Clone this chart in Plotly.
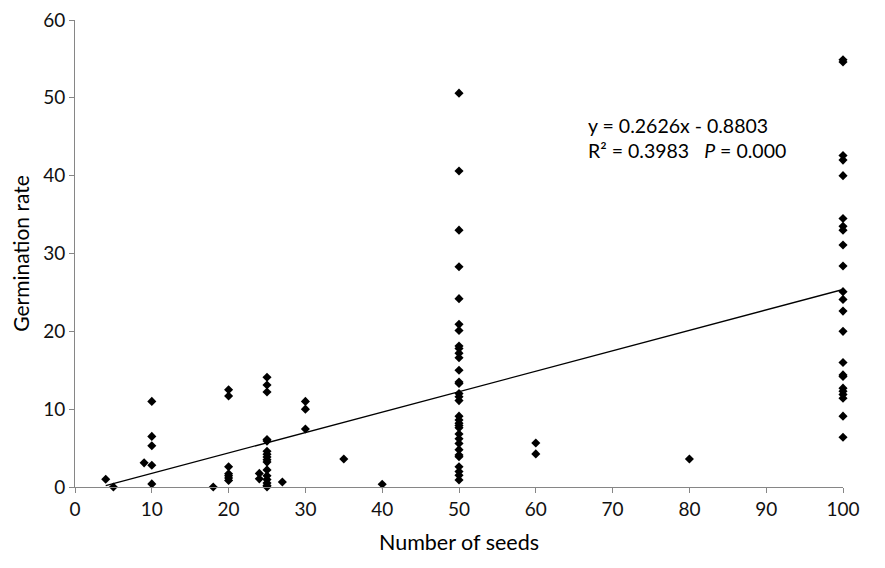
import plotly.graph_objects as go

# seeds sown per trial (x) and germination rate (y)
seeds_4_40 = [4, 5, 9, 10, 10, 10, 10, 10, 18,
              20, 20, 20, 20, 20, 20, 20, 24, 24,
              25, 25, 25, 25, 25, 25, 25, 25, 25, 25, 25, 25, 25, 25, 25, 25,
              27, 30, 30, 30, 35, 40]
rate_4_40 = [1.0, 0.0, 3.1, 11.0, 6.5, 5.3, 2.8, 0.4, 0.0,
             12.5, 11.7, 2.6, 1.7, 1.45, 1.15, 0.85, 1.75, 1.05,
             14.1, 13.1, 12.2, 6.1, 5.9, 4.6, 4.2, 3.85, 3.5, 3.2, 2.2, 1.45, 0.95, 0.5, 0.2, 0.0,
             0.65, 11.0, 10.0, 7.45, 3.6, 0.35]

rate_50 = [50.6, 40.6, 33.0, 28.3, 24.2, 20.9, 20.1, 18.1, 17.8, 17.2,
           16.6, 15.0, 13.5, 13.3, 12.0, 11.6, 11.1, 9.1, 8.6, 8.2,
           7.9, 7.6, 6.8, 6.2, 5.6, 4.8, 4.1, 3.9, 2.6, 2.0, 1.5, 0.9]
seeds_50 = [50] * len(rate_50)

seeds_60_80 = [60, 60, 80]
rate_60_80 = [5.65, 4.25, 3.6]

rate_100 = [54.9, 54.6, 42.6, 42.0, 40.0, 34.5, 33.5, 33.0, 31.1, 28.4,
            25.1, 24.1, 22.6, 20.0, 16.0, 14.4, 14.2, 12.7, 12.3, 11.9,
            11.4, 9.1, 6.4]
seeds_100 = [100] * len(rate_100)

slope = 0.2626
intercept = -0.8803
fit_x = [4, 100]

seeds = seeds_4_40 + seeds_50 + seeds_60_80 + seeds_100
rate = rate_4_40 + rate_50 + rate_60_80 + rate_100

x_ticks = list(range(0, 101, 10))
y_ticks = list(range(0, 61, 10))

FONT = "Lato, Open Sans, sans-serif"
AXIS_GREY = "#868686"

fig = go.Figure()
fig.add_trace(go.Scatter(
    x=fit_x, y=[slope * v + intercept for v in fit_x],
    mode="lines", line=dict(color="black", width=1.3),
    hoverinfo="skip", cliponaxis=False,
))
fig.add_trace(go.Scatter(
    x=seeds, y=rate, mode="markers",
    marker=dict(symbol="diamond", size=7, color="black"),
    cliponaxis=False,
))

fig.add_annotation(
    x=66.5, y=46.4, xref="x", yref="y", xanchor="left", yanchor="middle",
    text="y = 0.2626x - 0.8803", showarrow=False,
    font=dict(family=FONT, size=19.5, color="black"),
)
fig.add_annotation(
    x=66.5, y=43.2, xref="x", yref="y", xanchor="left", yanchor="middle",
    text="R² = 0.3983   <i>P</i> = 0.000", showarrow=False,
    font=dict(family=FONT, size=19.5, color="black"),
)

# the page body has an 8px margin, so the plot area is pulled up/left by 8px
fig.update_layout(
    width=885, height=568,
    paper_bgcolor="white", plot_bgcolor="white",
    showlegend=False,
    margin=dict(l=67, r=50, t=12, b=89, autoexpand=False),
    font=dict(family=FONT, color="black"),
    xaxis=dict(
        range=[0, 100], tickvals=x_ticks, showgrid=False, zeroline=False,
        showline=True, linecolor=AXIS_GREY, linewidth=1,
        ticks="outside", tickcolor=AXIS_GREY, ticklen=5,
        tickfont=dict(size=19, color="#111"), automargin=False,
        ticklabeloverflow="allow",
        title=dict(text="Number of seeds", font=dict(size=21.5), standoff=16),
    ),
    yaxis=dict(
        range=[0, 60], tickvals=y_ticks, showgrid=False, zeroline=False,
        showline=True, linecolor=AXIS_GREY, linewidth=1,
        ticks="outside", tickcolor=AXIS_GREY, ticklen=5,
        tickfont=dict(size=19, color="#111"), automargin=False,
        ticklabeloverflow="allow",
        title=dict(text="Germination rate", font=dict(size=21), standoff=10),
    ),
)

fig.write_html("out.html")
